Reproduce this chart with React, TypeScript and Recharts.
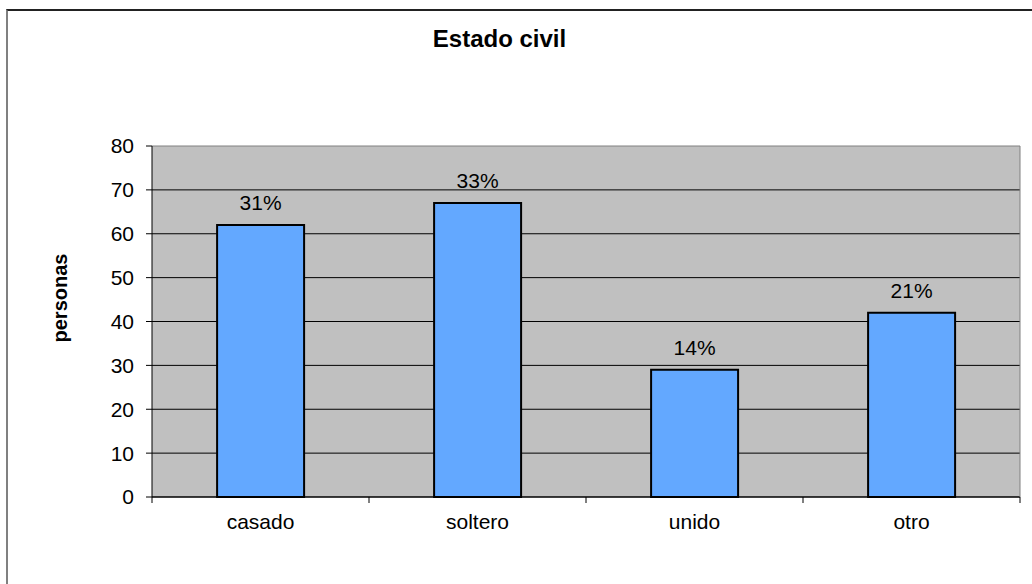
import React from 'react';
import { BarChart, Bar, XAxis, YAxis, CartesianGrid, LabelList } from 'recharts';

const categories = ['casado', 'soltero', 'unido', 'otro'];
const personas = [62, 67, 29, 42];
const pctLabels = ['31%', '33%', '14%', '21%'];
const yTicks = [0, 10, 20, 30, 40, 50, 60, 70, 80];

const data = categories.map((c, i) => ({ name: c, personas: personas[i], pct: pctLabels[i] }));

const FONT = '"Liberation Sans", Arial, sans-serif';
const PLOT_TOP = 146;
const BAND = (1020 - 152) / categories.length;

const XTick = (props: any) => {
  const { x, y, payload, index } = props;
  return (
    <g>
      {index === 0 && <line x1={x - BAND / 2} y1={y - 8} x2={x - BAND / 2} y2={y - 2} stroke="#000" />}
      <line x1={x + BAND / 2} y1={y - 8} x2={x + BAND / 2} y2={y - 2} stroke="#000" />
      <text x={x} y={y + 24} textAnchor="middle" fontSize={21} fill="#000" fontFamily={FONT}>
        {payload.value}
      </text>
    </g>
  );
};

const GridLine = (props: any) => {
  const { x1, y1, x2, y2 } = props;
  return <line x1={x1} y1={y1} x2={x2} y2={y2} stroke={y1 <= PLOT_TOP + 1 ? '#808080' : '#000'} strokeWidth={1} />;
};

export default function App() {
  return (
    <div style={{ position: 'absolute', left: 0, top: 0, width: 1032, height: 584, background: '#fff', overflow: 'hidden' }}>
      <div
        style={{
          position: 'absolute', left: 6, top: 9, width: 1100, height: 700,
          borderTop: '2px solid #222', borderLeft: '2px solid #808080',
        }}
      />
      <div style={{ position: 'absolute', left: 0, top: 0 }}>
        <BarChart width={1032} height={584} data={data} margin={{ top: PLOT_TOP, right: 0, bottom: 0, left: 0 }} barCategoryGap="30%">
          <CartesianGrid vertical={false} horizontal={GridLine} fill="#C0C0C0" />
          <XAxis
            dataKey="name"
            height={87}
            axisLine={{ stroke: '#000' }}
            tickLine={false}
            tick={<XTick />}
            interval={0}
          />
          <YAxis
            width={152}
            domain={[0, 80]}
            ticks={yTicks}
            interval={0}
            axisLine={{ stroke: '#000' }}
            tickLine={{ stroke: '#000' }}
            tickSize={6}
            tickMargin={12}
            tick={{ fontSize: 21, fill: '#000', fontFamily: FONT }}
          />
          <YAxis
            yAxisId="r"
            orientation="right"
            width={12}
            domain={[0, 80]}
            axisLine={{ stroke: '#808080' }}
            tickLine={false}
            tick={false}
          />
          <Bar dataKey="personas" fill="#63A8FF" stroke="#000" strokeWidth={2} isAnimationActive={false}>
            <LabelList dataKey="pct" position="top" offset={15} fontSize={21} fill="#000" fontFamily={FONT} />
          </Bar>
        </BarChart>
      </div>
      <svg width={1032} height={584} style={{ position: 'absolute', left: 0, top: 0, pointerEvents: 'none' }}>
        <text x={499.5} y={47} textAnchor="middle" fontFamily={FONT} fontWeight="bold" fontSize={24} fill="#000">
          Estado civil
        </text>
        <text
          x={0}
          y={0}
          transform="translate(67, 298) rotate(-90)"
          textAnchor="middle"
          fontFamily={FONT}
          fontWeight="bold"
          fontSize={20}
          fill="#000"
        >
          personas
        </text>
      </svg>
    </div>
  );
}
